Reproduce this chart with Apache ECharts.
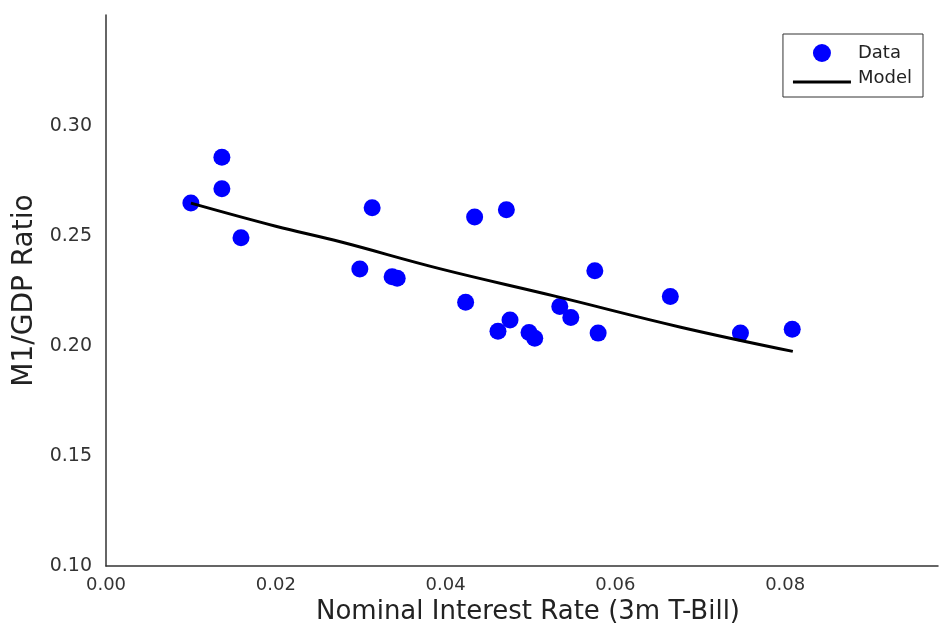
<!DOCTYPE html>
<html>
<head>
<meta charset="utf-8">
<script src="https://cdn.jsdelivr.net/npm/echarts@6/dist/echarts.min.js"></script>
<style>
html,body{margin:0;padding:0;background:#fff;}
#chart{width:940px;height:630px;}
</style>
</head>
<body>
<div id="chart"></div>
<script>
// Data points (Nominal interest rate, M1/GDP ratio)
const dataRate = [0.0100, 0.01365, 0.01365, 0.0159, 0.0299, 0.03135, 0.0337, 0.0343, 0.04236, 0.04342, 0.04617, 0.04716, 0.04759, 0.04983, 0.0505, 0.05345, 0.05475, 0.05758, 0.05797, 0.06647, 0.07473, 0.08083];
const dataRatio = [0.2650, 0.2858, 0.2715, 0.2492, 0.2350, 0.2629, 0.2315, 0.2308, 0.2199, 0.2587, 0.2067, 0.2620, 0.2119, 0.2062, 0.2036, 0.2180, 0.2130, 0.2343, 0.2059, 0.2225, 0.2059, 0.2077];
// Model curve
const modelRate = [0.0100, 0.0200, 0.0276, 0.0394, 0.0530, 0.0677, 0.0809];
const modelRatio = [0.2650, 0.2545, 0.2474, 0.2351, 0.2226, 0.2086, 0.1976];
// Tick labels
const xTicks = ['0.00', '0.02', '0.04', '0.06', '0.08'];
const yTicks = ['0.10', '0.15', '0.20', '0.25', '0.30'];

const FONT = 'DejaVu Sans';
const chart = echarts.init(document.getElementById('chart'));
chart.setOption({
  backgroundColor: '#ffffff',
  animation: false,
  textStyle: { fontFamily: FONT },
  grid: { left: 106, right: 2, top: 15, bottom: 61, containLabel: false },
  legend: {
    orient: 'vertical',
    right: 17,
    top: 34,
    itemWidth: 58,
    itemHeight: 18,
    itemGap: 7,
    padding: [10, 11, 10, 10],
    borderColor: '#333',
    borderWidth: 1,
    borderRadius: 0,
    textStyle: { fontFamily: FONT, fontSize: 18, color: '#222', padding: [0, 0, 0, 2] },
    data: [
      { name: 'Data', icon: 'circle' },
      { name: 'Model', icon: 'path://M0,0 M0,11.5 L58,11.5 L58,14.5 L0,14.5 Z M58,18' }
    ]
  },
  xAxis: {
    type: 'value',
    min: 0, max: 0.098, interval: 0.02,
    name: 'Nominal Interest Rate (3m T-Bill)',
    nameLocation: 'middle',
    nameGap: 27,
    nameTextStyle: { fontFamily: FONT, fontSize: 26, color: '#222', padding: [0, 0, 0, 12] },
    axisLine: { show: true, lineStyle: { color: '#333', width: 1.5 } },
    axisTick: { show: false },
    splitLine: { show: false },
    axisLabel: {
      fontFamily: FONT, fontSize: 18, color: '#333', margin: 10,
      showMaxLabel: false,
      formatter: function (v) { const i = Math.round(v / 0.02); return xTicks[i] !== undefined ? xTicks[i] : ''; }
    }
  },
  yAxis: {
    type: 'value',
    min: 0.10, max: 0.3505, interval: 0.05,
    name: 'M1/GDP Ratio',
    nameLocation: 'middle',
    nameGap: 67,
    nameRotate: 90,
    nameTextStyle: { fontFamily: FONT, fontSize: 28, color: '#222' },
    axisLine: { show: true, lineStyle: { color: '#333', width: 1.5 } },
    axisTick: { show: false },
    splitLine: { show: false },
    axisLabel: {
      fontFamily: FONT, fontSize: 19, color: '#333', margin: 14,
      formatter: function (v) { const i = Math.round((v - 0.10) / 0.05); return yTicks[i] !== undefined ? yTicks[i] : ''; }
    }
  },
  series: [
    {
      name: 'Data',
      type: 'scatter',
      symbol: 'circle',
      symbolSize: 17,
      itemStyle: { color: '#0000ff', opacity: 1 },
      data: dataRate.map((x, i) => [x, dataRatio[i]]),
      z: 3
    },
    {
      name: 'Model',
      type: 'line',
      smooth: 0.4,
      symbol: 'none',
      showSymbol: false,
      lineStyle: { color: '#000000', width: 3 },
      itemStyle: { color: '#000000' },
      data: modelRate.map((x, i) => [x, modelRatio[i]]),
      z: 4
    }
  ]
});
</script>
</body>
</html>
